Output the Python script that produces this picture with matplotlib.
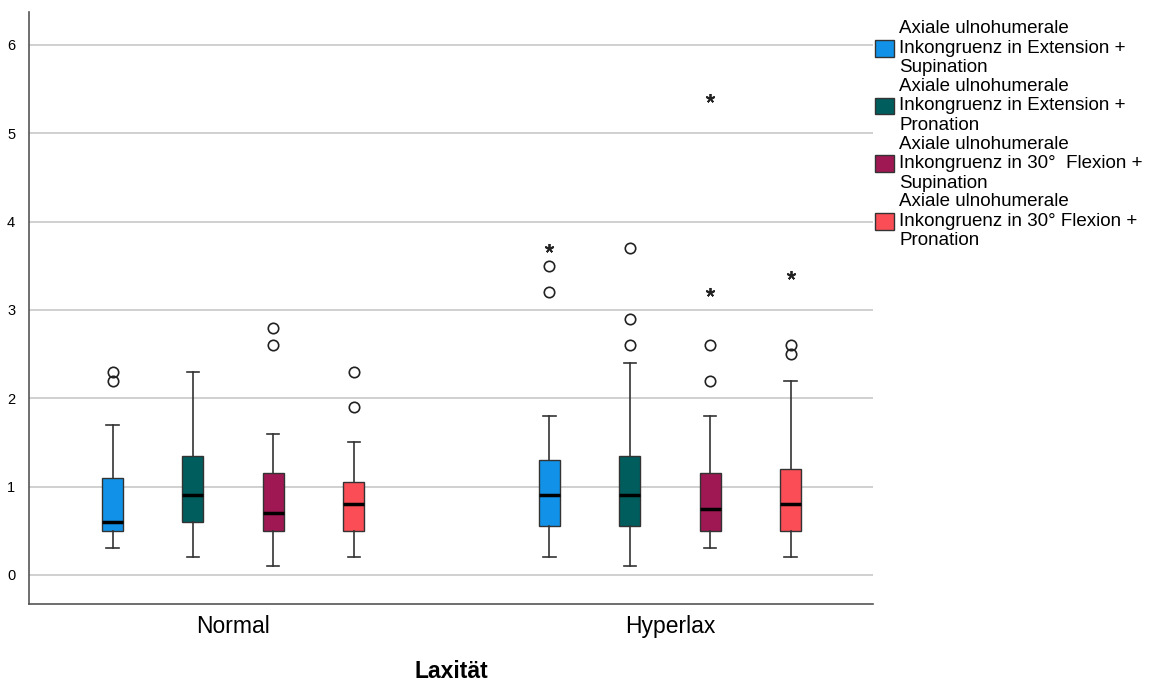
import matplotlib
matplotlib.use("Agg")
import matplotlib.pyplot as plt
from matplotlib.patches import Patch

plt.rcParams["font.family"] = ["Liberation Sans", "DejaVu Sans"]

groups = ["Normal", "Hyperlax"]
series = [
    "Axiale ulnohumerale\nInkongruenz in Extension +\nSupination",
    "Axiale ulnohumerale\nInkongruenz in Extension +\nPronation",
    "Axiale ulnohumerale\nInkongruenz in 30°  Flexion +\nSupination",
    "Axiale ulnohumerale\nInkongruenz in 30° Flexion +\nPronation",
]
colors = ["#1192e8", "#005d5d", "#9f1853", "#fa4d56"]

# per group, per series: whislo, q1, median, q3, whishi
whislo = [[0.3, 0.2, 0.1, 0.2], [0.2, 0.1, 0.3, 0.2]]
q1 = [[0.5, 0.6, 0.5, 0.5], [0.55, 0.55, 0.5, 0.5]]
med = [[0.6, 0.9, 0.7, 0.8], [0.9, 0.9, 0.75, 0.8]]
q3 = [[1.1, 1.35, 1.15, 1.05], [1.3, 1.35, 1.15, 1.2]]
whishi = [[1.7, 2.3, 1.6, 1.5], [1.8, 2.4, 1.8, 2.2]]
outliers = [[[2.2, 2.3], [], [2.6, 2.8], [1.9, 2.3]],
            [[3.2, 3.5], [2.6, 2.9, 3.7], [2.2, 2.6], [2.5, 2.6]]]
extremes = [[[], [], [], []],
            [[3.7], [], [3.2, 5.4], [3.4]]]

fig = plt.figure(figsize=(11.67, 6.84), dpi=100)
ax = fig.add_axes([0.0249, 0.117, 0.7233, 0.865])

spacing = 0.184
offsets = [-1.5 * spacing, -0.5 * spacing, 0.5 * spacing, 1.5 * spacing]

for y in range(0, 7):
    ax.axhline(y, color="#c8c8c8", lw=1.2, zorder=0)

for g in range(len(groups)):
    for s in range(len(series)):
        pos = g + offsets[s]
        st = {"whislo": whislo[g][s], "q1": q1[g][s], "med": med[g][s],
              "q3": q3[g][s], "whishi": whishi[g][s], "fliers": outliers[g][s]}
        ax.bxp([st], positions=[pos], widths=0.048, capwidths=0.028,
               patch_artist=True, showfliers=True,
               boxprops=dict(facecolor=colors[s], edgecolor="#333333", linewidth=1),
               medianprops=dict(color="black", linewidth=2.5),
               whiskerprops=dict(color="#333333", linewidth=1.2),
               capprops=dict(color="#333333", linewidth=1.2),
               flierprops=dict(marker="o", markerfacecolor="none",
                               markeredgecolor="#222222", markersize=7.5,
                               markeredgewidth=1.2),
               manage_ticks=False, zorder=3)
        if extremes[g][s]:
            ax.plot([pos] * len(extremes[g][s]), extremes[g][s], linestyle="none",
                    marker=(5, 2, 0), color="#222222", markersize=6.5,
                    markeredgewidth=1.3, zorder=4)

ax.set_xlim(-0.467, 1.465)
ax.set_ylim(-0.33, 6.37)
ax.set_xticks(range(len(groups)))
ax.set_xticklabels(groups, fontsize=16.5)
ax.set_yticks(range(0, 7))
ax.tick_params(axis="y", length=0, labelsize=10.5, pad=10)
ax.tick_params(axis="x", length=0, pad=8)
ax.set_xlabel("Laxität", fontsize=16.5, fontweight="bold", labelpad=16)
for sp in ["top", "right"]:
    ax.spines[sp].set_visible(False)
for sp in ["left", "bottom"]:
    ax.spines[sp].set_color("#555555")
    ax.spines[sp].set_linewidth(1.2)

handles = [Patch(facecolor=c, edgecolor="#333333", label=l) for c, l in zip(colors, series)]
ax.legend(handles=handles, loc="upper left", bbox_to_anchor=(1.0, 0.99),
          frameon=False, fontsize=13.5, handlelength=1.0, handleheight=1.0,
          handletextpad=0.3, labelspacing=0.08, borderaxespad=0.0, borderpad=0.1)

fig.savefig("out.png", dpi=100)
